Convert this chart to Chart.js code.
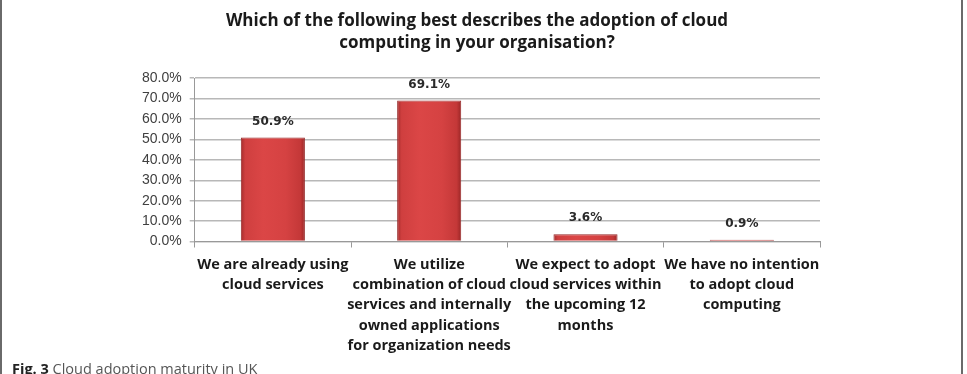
<!DOCTYPE html>
<html>
<head>
<meta charset="utf-8">
<script src="https://cdn.jsdelivr.net/npm/chart.js@4.4.1/dist/chart.umd.min.js"></script>
<style>
  html, body { margin: 0; padding: 0; background: #fff; overflow: hidden; }
  #page { position: relative; width: 967px; height: 374px; overflow: hidden; }
  #frame {
    position: absolute; left: 0; top: -12px; width: 959px; height: 400px;
    border: 2px solid #6a6a6a; border-radius: 6px; box-sizing: content-box;
  }
  #chart { position: absolute; left: 10px; top: 0; }
  #caption {
    position: absolute; left: 12px; top: 359px;
    font-family: "Open Sans", sans-serif; font-size: 14.5px; color: #555;
  }
  #caption b { color: #222; }
</style>
</head>
<body>
<div id="page">
  <div id="frame"></div>
  <canvas id="chart" width="940" height="363"></canvas>
  <div id="caption"><b>Fig. 3</b> Cloud adoption maturity in UK</div>
</div>
<script>
const TITLE = ['Which of the following best describes the adoption of cloud', 'computing in your organisation?'];
const CATEGORIES = [
    ['We are already using', 'cloud services'],
    ['We utilize', 'combination of cloud', 'services and internally', 'owned applications', 'for organization needs'],
    ['We expect to adopt', 'cloud services within', 'the upcoming 12', 'months'],
    ['We have no intention', 'to adopt cloud', 'computing']
];
const VALUES = [50.9, 69.1, 3.6, 0.9];
const Y_MAX = 80;
const Y_STEP = 10;

const LABEL_FONT = '"Open Sans", sans-serif';

// bevelled red bars: horizontal gradient per bar (options are shared, so copy them)
const barShade = {
    id: 'barShade',
    beforeDatasetsDraw(chart) {
        const ctx = chart.ctx;
        chart.getDatasetMeta(0).data.forEach(el => {
            const left = el.x - el.width / 2;
            const g = ctx.createLinearGradient(left, 0, left + el.width, 0);
            g.addColorStop(0, '#a52c2c');
            g.addColorStop(0.07, '#cf3f3f');
            g.addColorStop(0.35, '#db4646');
            g.addColorStop(0.7, '#d54242');
            g.addColorStop(0.93, '#c43838');
            g.addColorStop(1, '#9a2626');
            el.options = Object.assign({}, el.options, { backgroundColor: g });
        });
    }
};

const valueLabels = {
    id: 'valueLabels',
    afterDatasetsDraw(chart) {
        const ctx = chart.ctx;
        ctx.save();
        ctx.font = 'bold 12px "DejaVu Sans", sans-serif';
        ctx.fillStyle = '#2a2a2a';
        ctx.textAlign = 'center';
        ctx.textBaseline = 'middle';
        chart.getDatasetMeta(0).data.forEach((el, i) => {
            ctx.fillText(VALUES[i].toFixed(1) + '%', el.x, el.y - 16);
        });
        ctx.restore();
    }
};

new Chart(document.getElementById('chart'), {
    type: 'bar',
    data: {
        labels: CATEGORIES,
        datasets: [{
            data: VALUES,
            backgroundColor: '#d64242',
            borderColor: '#962828',
            borderWidth: 1,
            barPercentage: 0.41,
            categoryPercentage: 1
        }]
    },
    options: {
        responsive: false,
        animation: false,
        layout: { padding: { left: 124, right: 130, top: 6, bottom: 0 } },
        plugins: {
            legend: { display: false },
            tooltip: { enabled: false },
            title: {
                display: true,
                text: TITLE,
                color: '#1a1a1a',
                font: { family: LABEL_FONT, size: 17, weight: 'bold', lineHeight: 1.3 },
                padding: { top: 4, bottom: 24 }
            }
        },
        scales: {
            x: {
                grid: { display: true, drawOnChartArea: false, drawTicks: true, tickLength: 6, color: '#999', lineWidth: 1 },
                border: { display: true, color: '#999', width: 1 },
                ticks: {
                    color: '#1a1a1a',
                    font: { family: LABEL_FONT, size: 14.5, weight: 'bold', lineHeight: 1.4 },
                    padding: 7,
                    maxRotation: 0,
                    autoSkip: false
                }
            },
            y: {
                min: 0,
                max: Y_MAX,
                grid: { color: '#b8b8b8', lineWidth: 1.5, tickLength: 5 },
                border: { display: true, color: '#999', width: 1 },
                ticks: {
                    stepSize: Y_STEP,
                    color: '#404040',
                    font: { family: '"Liberation Sans", sans-serif', size: 14 },
                    padding: 8,
                    callback: v => v.toFixed(1) + '%'
                }
            }
        }
    },
    plugins: [barShade, valueLabels]
});
</script>
</body>
</html>
